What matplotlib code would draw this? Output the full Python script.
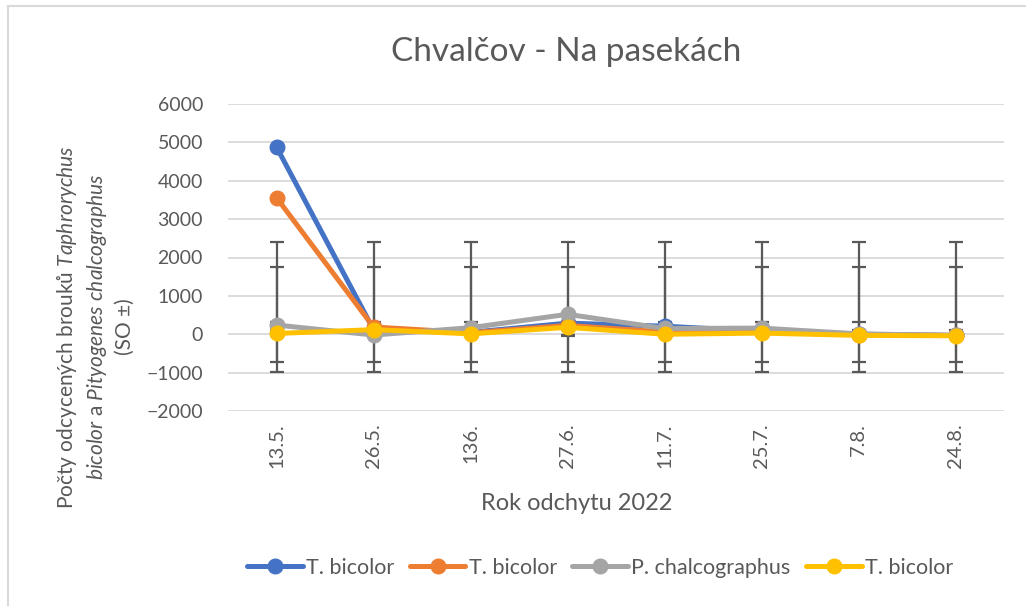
import numpy as np
import matplotlib
matplotlib.use("Agg")
import matplotlib.pyplot as plt
from matplotlib.lines import Line2D

plt.rcParams['font.family'] = ['Lato', 'DejaVu Sans']
plt.rcParams['mathtext.fontset'] = 'custom'
plt.rcParams['mathtext.rm'] = 'Lato'
plt.rcParams['mathtext.it'] = 'Lato:italic'

# data
dates = ["13.5.", "26.5.", "136.", "27.6.", "11.7.", "25.7.", "7.8.", "24.8."]
series_names = ["T. bicolor", "T. bicolor", "P. chalcographus", "T. bicolor"]
blue_vals = [4880, 120, 50, 290, 210, 80, 0, -30]
orange_vals = [3560, 190, 40, 230, 60, 50, -10, -30]
gray_vals = [240, -20, 170, 520, 150, 160, 10, -30]
yellow_vals = [20, 120, 10, 180, 0, 30, -30, -40]

colors = ['#4472C4', '#ED7D31', '#A5A5A5', '#FFC000']
text_col = '#595959'
grid_col = '#D9D9D9'

fig = plt.figure(figsize=(10.26, 6.06), dpi=100)
ax = fig.add_axes([228 / 1026, 1 - 411 / 606, 776 / 1026, 307 / 606])

x = np.arange(len(dates))
all_series = [blue_vals, orange_vals, gray_vals, yellow_vals]

# Excel style "standard deviation" error bars: mean of the series +- sample SD
for vals in all_series:
    v = np.array(vals, dtype=float)
    centre = np.full(len(v), v.mean())
    ax.errorbar(x, centre, yerr=v.std(ddof=1), fmt='none', ecolor=text_col,
                elinewidth=1.6, capsize=5, capthick=1.6, zorder=2)

for i, vals in enumerate(all_series):
    ax.plot(x, vals, color=colors[i], lw=3.6, marker='o', ms=10.5,
            label=series_names[i], zorder=3 + i, solid_capstyle='round')

ax.set_xlim(-0.5, len(dates) - 0.5)
ax.set_ylim(-2000, 6000)
ax.set_yticks(range(-2000, 7000, 1000))
ax.set_xticks(x)
ax.set_xticklabels(dates, rotation=90)
ax.grid(axis='y', color=grid_col, lw=1.3)
ax.set_axisbelow(True)
for s in ax.spines.values():
    s.set_visible(False)
ax.tick_params(axis='y', length=0, labelsize=14, labelcolor=text_col, pad=18)
ax.tick_params(axis='x', length=0, labelsize=14.5, labelcolor=text_col, pad=9)

fig.text(566 / 1026, 1 - 52 / 606, "Chvalčov - Na pasekách", ha='center', va='center',
         fontsize=24, color=text_col)
fig.text(577 / 1026, 1 - 503 / 606, "Rok odchytu 2022", ha='center', va='center',
         fontsize=17, color=text_col)

ylab = ("Počty odcycených brouků $\\mathit{Taphrorychus}$\n"
        "$\\mathit{bicolor}$ a $\\mathit{Pityogenes}$ $\\mathit{chalcographus}$\n"
        "(SO ±)")
fig.text(95 / 1026, 1 - 327 / 606, ylab, rotation=90, ha='center', va='center',
         multialignment='center', fontsize=15, color=text_col, linespacing=1.35)

fig.legend(loc='center', bbox_to_anchor=(600 / 1026, 1 - 568 / 606), ncol=4,
           frameon=False, fontsize=15.5, handlelength=2.6, handletextpad=0.15,
           columnspacing=0.7, labelcolor=text_col)

# chart area border
fig.add_artist(Line2D([8 / 1026, 8 / 1026], [0, 1 - 6 / 606], color=grid_col, lw=1.5))
fig.add_artist(Line2D([8 / 1026, 1], [1 - 6 / 606, 1 - 6 / 606], color=grid_col, lw=1.5))

fig.savefig("out.png", dpi=100)
